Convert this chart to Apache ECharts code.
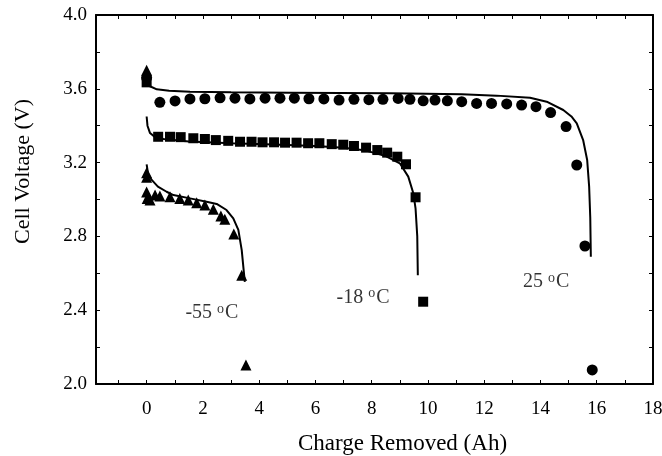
<!DOCTYPE html>
<html>
<head>
<meta charset="utf-8">
<script src="https://cdn.jsdelivr.net/npm/echarts@6/dist/echarts.min.js"></script>
<style>html,body{margin:0;padding:0;background:#fff}#chart{width:662px;height:456px}</style>
</head>
<body>
<div id="chart"></div>
<script>
// measured points (Ah, V)
var circles25 = [[0,3.66],[0.47,3.527],[1.01,3.534],[1.54,3.545],[2.07,3.546],[2.61,3.551],[3.14,3.549],[3.67,3.545],[4.21,3.549],[4.74,3.549],[5.25,3.549],[5.77,3.546],[6.30,3.545],[6.84,3.539],[7.37,3.543],[7.90,3.541],[8.40,3.543],[8.94,3.548],[9.36,3.543],[9.83,3.535],[10.25,3.539],[10.69,3.535],[11.20,3.530],[11.73,3.521],[12.26,3.521],[12.80,3.518],[13.33,3.512],[13.84,3.503],[14.36,3.471],[14.91,3.395],[15.29,3.187],[15.58,2.748],[15.84,2.076]];
var squares18 = [[0,3.635],[0.41,3.34],[0.83,3.34],[1.21,3.338],[1.66,3.332],[2.07,3.328],[2.46,3.322],[2.90,3.318],[3.32,3.313],[3.73,3.313],[4.12,3.31],[4.53,3.31],[4.92,3.308],[5.33,3.308],[5.74,3.305],[6.14,3.305],[6.58,3.30],[6.99,3.297],[7.37,3.29],[7.80,3.281],[8.20,3.268],[8.55,3.254],[8.91,3.232],[9.22,3.191],[9.56,3.012],[9.83,2.446]];
var triangles55 = [[0,3.70],[0,3.145],[0,3.12],[0,3.04],[0.02,3.005],[0.12,2.997],[0.3,3.024],[0.47,3.019],[0.83,3.015],[1.18,3.006],[1.48,2.997],[1.78,2.983],[2.07,2.97],[2.37,2.947],[2.64,2.91],[2.78,2.893],[3.10,2.813],[3.38,2.59],[3.53,2.103]];

// model curves
var model25 = [[0,3.64],[0.1,3.615],[0.36,3.597],[0.8,3.59],[1.54,3.584],[3,3.581],[5.1,3.579],[8.65,3.576],[11.2,3.57],[12.44,3.563],[13.63,3.552],[14.22,3.53],[14.81,3.485],[15.1,3.45],[15.29,3.413],[15.52,3.32],[15.66,3.214],[15.73,3.07],[15.77,2.9],[15.79,2.69]];
var model18 = [[0,3.45],[0.03,3.40],[0.12,3.36],[0.3,3.338],[0.6,3.328],[1.5,3.315],[3,3.305],[4.5,3.298],[6,3.29],[7,3.28],[7.8,3.265],[8.5,3.235],[9.0,3.196],[9.3,3.124],[9.48,3.034],[9.56,2.95],[9.62,2.8],[9.64,2.59]];
var model55 = [[0,3.19],[0.05,3.14],[0.18,3.106],[0.4,3.07],[0.71,3.042],[0.95,3.024],[1.54,3.006],[2.13,2.988],[2.49,2.976],[2.84,2.943],[3.08,2.898],[3.26,2.835],[3.38,2.726],[3.46,2.60],[3.49,2.554]];

var xTicks = [-1,0,1,2,3,4,5,6,7,8,9,10,11,12,13,14,15,16,17,18];
var xTickLabels = [0,2,4,6,8,10,12,14,16,18];
var yTickLabels = [2.0,2.4,2.8,3.2,3.6,4.0];

var notes = [
	{name:'-55', coord:[2.32,2.385]},
	{name:'-18', coord:[7.69,2.47]},
	{name:'25', coord:[14.2,2.553]}
];

var font = 'Liberation Serif';
var myChart = echarts.init(document.getElementById('chart'));

function xAxisCfg(pos){
	return {
		type:'value', position:pos, min:-1.8, max:18,
		axisLine:{show:true, onZero:false, lineStyle:{color:'#000', width:2}},
		axisTick:{show:true, inside:true, length:4, customValues:xTicks, lineStyle:{color:'#000', width:1}},
		axisLabel:{show:pos=='bottom', customValues:xTickLabels, margin:16, color:'#000', fontFamily:font, fontSize:19},
		splitLine:{show:false}
	};
}
function yAxisCfg(pos){
	return {
		type:'value', position:pos, min:2, max:4, interval:0.2,
		axisLine:{show:true, onZero:false, lineStyle:{color:'#000', width:2}},
		axisTick:{show:true, inside:true, length:4, lineStyle:{color:'#000', width:1}},
		axisLabel:{show:pos=='left', customValues:yTickLabels, margin:9, color:'#000', fontFamily:font, fontSize:19,
			formatter:function(v){return v.toFixed(1);}},
		splitLine:{show:false}
	};
}

var xBottom = xAxisCfg('bottom');
xBottom.name = 'Charge Removed (Ah)';
xBottom.nameLocation = 'middle';
xBottom.nameGap = 48;
xBottom.nameTextStyle = {color:'#000', fontFamily:font, fontSize:23, padding:[0,0,0,56]};
var yLeft = yAxisCfg('left');
yLeft.name = 'Cell Voltage (V)';
yLeft.nameLocation = 'middle';
yLeft.nameGap = 62;
yLeft.nameTextStyle = {color:'#000', fontFamily:font, fontSize:22, padding:[0,0,0,56]};

function markers(data, sym, size){
	return {type:'scatter', data:data, symbol:sym, symbolSize:size, itemStyle:{color:'#000', opacity:1}, z:3, silent:true};
}
function curve(data){
	return {type:'line', data:data, showSymbol:false, lineStyle:{color:'#000', width:2}, z:2, silent:true};
}

var option = {
	animation:false,
	backgroundColor:'#fff',
	grid:{left:96, right:9, top:15, bottom:72, outerBoundsMode:'none'},
	xAxis:[xBottom, xAxisCfg('top')],
	yAxis:[yLeft, yAxisCfg('right')],
	series:[
		curve(model25), curve(model18), curve(model55),
		markers(circles25,'circle',11),
		markers(squares18,'rect',10),
		markers(triangles55,'triangle',11),
		{
			type:'scatter', symbolSize:0, silent:true,
			data:notes.map(function(n){return {name:n.name, value:n.coord};}),
			label:{show:true, position:'inside', color:'#000', fontFamily:font,
				formatter:function(p){return '{t|'+p.name+' }{s|o}{t|C}';},
				rich:{t:{fontSize:20, fontFamily:font, color:'#000'}, s:{fontSize:14, fontFamily:font, color:'#000', verticalAlign:'top', padding:[0,1,8,0]}}}
		}
	]
};
myChart.setOption(option);
</script>
</body>
</html>
